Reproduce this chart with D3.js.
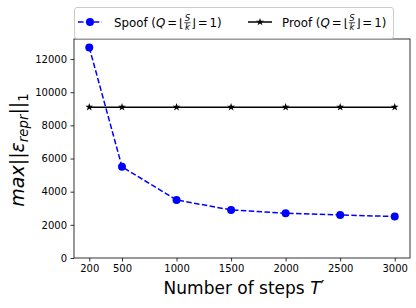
<!DOCTYPE html>
<html><head><meta charset="utf-8">
<script src="https://cdn.jsdelivr.net/npm/d3@7"></script>
<style>body{margin:0;background:#fff}svg{display:block}text{font-family:"DejaVu Sans",sans-serif}</style>
</head><body><svg id="c" width="416" height="308"></svg>
<script>
const steps = [200, 500, 1000, 1500, 2000, 2500, 3000];
const spoof = [12700, 5500, 3500, 2900, 2700, 2600, 2500];
const proof = [9100, 9100, 9100, 9100, 9100, 9100, 9100];
const xTicks = [200, 500, 1000, 1500, 2000, 2500, 3000];
const yTicks = [0, 2000, 4000, 6000, 8000, 10000, 12000];

const svg = d3.select("#c");
const L = 74, R = 410, T = 39, B = 258;
const x = d3.scaleLinear().domain([60, 3140]).range([L, R]);
const y = d3.scaleLinear().domain([0, 13210]).range([B, T]);

// axes
const xa = svg.append("g").attr("transform", `translate(0,${B})`)
  .call(d3.axisBottom(x).tickValues(xTicks).tickSize(3.5).tickPadding(3.5).tickFormat(d3.format("d")));
const ya = svg.append("g").attr("transform", `translate(${L},0)`)
  .call(d3.axisLeft(y).tickValues(yTicks).tickSize(3.5).tickPadding(3.5).tickFormat(d3.format("d")));
[xa, ya].forEach(g => {
  g.select(".domain").remove();
  g.selectAll("line").attr("stroke", "#000").attr("stroke-width", 0.8);
  g.selectAll("text").attr("font-size", 10).attr("fill", "#000").attr("font-family", "DejaVu Sans");
});
svg.append("rect").attr("x", L).attr("y", T).attr("width", R - L).attr("height", B - T)
  .attr("fill", "none").attr("stroke", "#000").attr("stroke-width", 0.8);

// lines
const line = (vals) => d3.line().x((d, i) => x(steps[i])).y(d => y(d))(vals);
svg.append("path").attr("d", line(proof)).attr("fill", "none").attr("stroke", "#000").attr("stroke-width", 1.5);
svg.append("path").attr("d", line(spoof)).attr("fill", "none").attr("stroke", "#0000ff").attr("stroke-width", 1.5).attr("stroke-dasharray", "5.5,2.4");
const star = d3.symbol().type(d3.symbolStar).size(19);
svg.selectAll(".st").data(proof).enter().append("path")
  .attr("d", star).attr("transform", (d, i) => `translate(${x(steps[i])},${y(d)})`).attr("fill", "#000");
svg.selectAll(".ci").data(spoof).enter().append("circle")
  .attr("cx", (d, i) => x(steps[i])).attr("cy", d => y(d)).attr("r", 4).attr("fill", "#0000ff");

// rich text helper
function rich(g, x0, y0, pieces, size) {
  let cx = x0;
  pieces.forEach(p => {
    if (p.frac) {
      const fs = size * 0.72;
      const a = g.append("text").attr("x", 0).attr("y", y0 - size * 0.45).attr("font-size", fs).attr("font-style", "italic").text(p.frac[0]);
      const b = g.append("text").attr("x", 0).attr("y", y0 + size * 0.3).attr("font-size", fs).attr("font-style", "italic").text(p.frac[1]);
      const w = Math.max(a.node().getComputedTextLength(), b.node().getComputedTextLength());
      a.attr("x", cx + 1 + (w - a.node().getComputedTextLength()) / 2);
      b.attr("x", cx + 1 + (w - b.node().getComputedTextLength()) / 2);
      g.append("line").attr("x1", cx + 0.5).attr("x2", cx + w + 1.5).attr("y1", y0 - size * 0.32).attr("y2", y0 - size * 0.32).attr("stroke", "#000").attr("stroke-width", 0.7);
      cx += w + 2;
    } else {
      const fs = size * (p.scale || 1);
      const t = g.append("text").attr("x", cx).attr("y", y0 + (p.dy || 0) * size).attr("font-size", fs)
        .attr("font-style", p.it ? "italic" : "normal").attr("xml:space", "preserve").text(p.t);
      cx += t.node().getComputedTextLength() + (p.sp || 0);
    }
  });
  return cx - x0;
}

// legend
const lg = svg.append("g");
lg.append("rect").attr("x", 74.5).attr("y", 7.5).attr("width", 319).attr("height", 31).attr("rx", 2.5)
  .attr("fill", "#fff").attr("fill-opacity", 0.8).attr("stroke", "#ccc").attr("stroke-width", 1);
const ly = 22;
lg.append("line").attr("x1", 78).attr("x2", 102).attr("y1", ly).attr("y2", ly).attr("stroke", "#0000ff").attr("stroke-width", 1.5).attr("stroke-dasharray", "5.5,2.4");
lg.append("circle").attr("cx", 90).attr("cy", ly).attr("r", 4).attr("fill", "#0000ff");
lg.append("line").attr("x1", 248).attr("x2", 272).attr("y1", ly).attr("y2", ly).attr("stroke", "#000").attr("stroke-width", 1.5);
lg.append("path").attr("d", star).attr("transform", `translate(260,${ly})`).attr("fill", "#000");
const lab = (name) => [{t: name + " ("}, {t: "Q", it: true, sp: 2}, {t: "=", sp: 2}, {t: "⌊"}, {frac: ["S", "k"]}, {t: "⌋", sp: 2}, {t: "=", sp: 2}, {t: "1)"}];
rich(lg.append("g"), 114, ly + 4.5, lab("Spoof"), 11.8);
rich(lg.append("g"), 282, ly + 4.5, lab("Proof"), 11.8);

// axis labels
svg.append("text").attr("x", 244).attr("y", 294).attr("text-anchor", "middle").attr("font-size", 17)
  .attr("xml:space", "preserve").html('Number of steps <tspan font-style="italic">T</tspan><tspan dy="-1">′</tspan>');
const yl = svg.append("g").attr("transform", `translate(24,150) rotate(-90)`);
const yg = yl.append("g");
const w = rich(yg, 0, 0, [{t: "max", it: true}, {t: "||"}, {t: "ε", it: true}, {t: "repr", it: true, scale: 0.7, dy: 0.2}, {t: "||"}, {t: "1", scale: 0.7, dy: 0.2}], 19);
yg.attr("transform", `translate(${-w / 2},0)`);
</script></body></html>
